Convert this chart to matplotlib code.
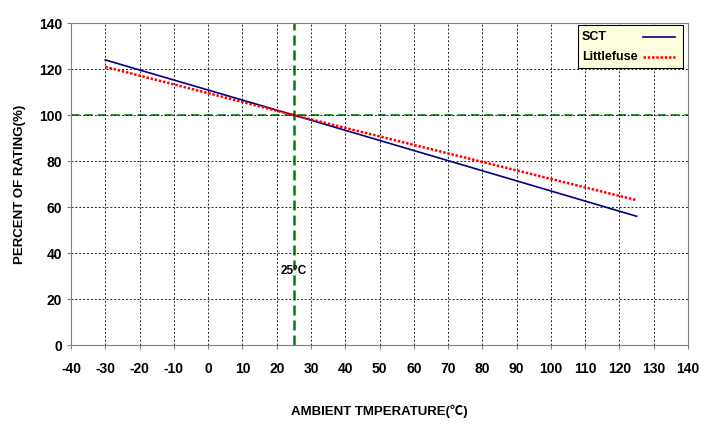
import matplotlib
matplotlib.use("Agg")
import matplotlib.pyplot as plt
from matplotlib.patches import Rectangle

plt.rcParams['font.family'] = ['Liberation Sans', 'DejaVu Sans']
plt.rcParams['axes.unicode_minus'] = False

# data
temp = [-30, 25, 125]
sct = [124, 100, 56]
littlefuse = [121, 100, 63]
x_ticks = list(range(-40, 141, 10))
y_ticks = list(range(0, 141, 20))
ref_temp = 25
ref_pct = 100
names = ['SCT', 'Littlefuse']

fig = plt.figure(figsize=(7.13, 4.37), dpi=100)
ax = fig.add_axes([0.0996, 0.2105, 0.8654, 0.7365])

sct_style = dict(color='#000080', lw=1.2)
lf_style = dict(color='#ff0000', lw=1.8, ls=(0, (1, 0.7)))
ax.plot(temp, sct, **sct_style)
ax.plot(temp, littlefuse, **lf_style)

ax.axvline(ref_temp, color='#008000', lw=1.8, ls=(0, (4, 2)), zorder=1)
ax.axhline(ref_pct, color='#008000', lw=1.2, ls=(0, (5, 3)), zorder=1)
ax.text(ref_temp, 32, '25\u00b0C', ha='center', va='center', fontsize=8.5, fontweight='bold')

ax.set_xlim(-40, 140)
ax.set_ylim(0, 140)
ax.set_xticks(x_ticks)
ax.set_yticks(y_ticks)
ax.tick_params(axis='both', labelsize=10, length=3, color='#808080')
for lbl in ax.get_xticklabels() + ax.get_yticklabels():
    lbl.set_fontweight('bold')
ax.tick_params(axis='x', pad=9)
ax.grid(True, color='#222222', ls=(0, (2, 2)), lw=0.7)
for s in ax.spines.values():
    s.set_color('#808080')

ax.set_xlabel('AMBIENT TMPERATURE(\u2103)', fontsize=9.5, fontweight='bold', labelpad=21,
              family=['Liberation Sans', 'Noto Sans CJK SC'])
ax.set_ylabel('PERCENT OF RATING(%)', fontsize=9.5, fontweight='bold', labelpad=9)

# legend box: text left, sample line right
ax.add_patch(Rectangle((0.822, 0.860), 0.170, 0.134, transform=ax.transAxes,
                       facecolor='#ffffe0', edgecolor='black', lw=0.8, zorder=5))
for name, style, yy in zip(names, [sct_style, lf_style], [0.957, 0.894]):
    ax.text(0.828, yy, name, transform=ax.transAxes, ha='left', va='center',
            fontsize=9, fontweight='bold', zorder=6)
    ax.plot([0.927, 0.979], [yy, yy], transform=ax.transAxes, zorder=6, **style)

fig.savefig('out.png', dpi=100)
